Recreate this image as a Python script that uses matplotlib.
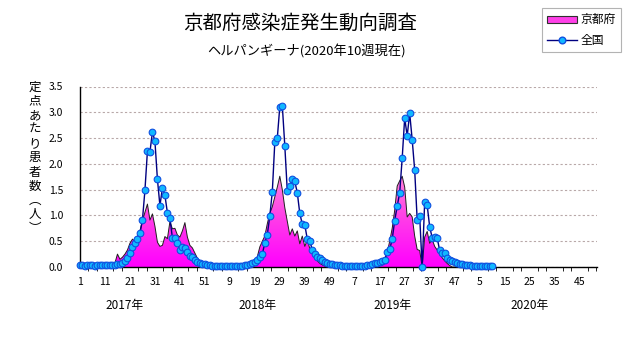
import numpy as np
import matplotlib
matplotlib.use("Agg")
import matplotlib.pyplot as plt
from matplotlib.colors import LinearSegmentedColormap
from matplotlib.patches import Patch
from matplotlib.lines import Line2D

plt.rcParams['font.family'] = ['Noto Sans CJK JP', 'DejaVu Sans']

# weekly values, 2017 week1 -> 2020 week10
national = [
    # 2017
    0.03, 0.03, 0.02, 0.03, 0.03, 0.03, 0.02, 0.03, 0.03, 0.03, 0.03, 0.03, 0.04, 0.04,
    0.04, 0.05, 0.06, 0.08, 0.12, 0.18, 0.28, 0.38, 0.46, 0.55, 0.65,
    0.91, 1.49, 2.25, 2.23, 2.62, 2.44, 1.70, 1.19, 1.53, 1.39, 1.05, 0.95,
    0.56, 0.57, 0.47, 0.33, 0.38, 0.36, 0.30, 0.22, 0.20, 0.14, 0.09, 0.07, 0.06, 0.05, 0.04,
    # 2018
    0.03, 0.02, 0.02, 0.02, 0.01, 0.01, 0.01, 0.01, 0.01, 0.01, 0.02, 0.02, 0.02, 0.02,
    0.03, 0.04, 0.05, 0.07, 0.10, 0.14, 0.19,
    0.25, 0.47, 0.63, 0.99, 1.46, 2.42, 2.50, 3.11, 3.13, 2.35, 1.47, 1.57, 1.70, 1.66, 1.44, 1.04, 0.83, 0.82,
    0.54, 0.51, 0.33, 0.25, 0.20, 0.17, 0.13, 0.10, 0.08, 0.06, 0.05, 0.04, 0.03,
    # 2019
    0.03, 0.02, 0.02, 0.01, 0.01, 0.01, 0.01, 0.01, 0.02, 0.02, 0.02, 0.03,
    0.04, 0.05, 0.07, 0.08, 0.10, 0.12, 0.14, 0.29, 0.34, 0.54,
    0.90, 1.18, 1.44, 2.11, 2.89, 2.54, 2.98, 2.47, 1.88, 0.92, 0.99, 0.00,
    1.26, 1.20, 0.78, 0.57, 0.59, 0.57, 0.32, 0.28, 0.28, 0.17, 0.14, 0.11, 0.09, 0.08, 0.06, 0.05, 0.04, 0.03,
    # 2020
    0.03, 0.02, 0.02, 0.02, 0.02, 0.02, 0.02, 0.02, 0.02, 0.02,
]

kyoto = [
    # 2017
    0, 0, 0, 0, 0, 0, 0, 0, 0, 0, 0, 0, 0, 0, 0.08,
    0.25, 0.15, 0.19, 0.25, 0.33, 0.46, 0.54, 0.50, 0.60, 0.70, 0.90, 1.06,
    1.22, 0.91, 1.03, 0.79, 0.48, 0.40, 0.42, 0.59, 0.55, 0.88, 0.74, 0.75, 0.62, 0.58,
    0.70, 0.86, 0.58, 0.42, 0.37, 0.27, 0.17, 0.09, 0.04, 0.02, 0.01,
    # 2018
    0, 0, 0, 0, 0, 0, 0, 0, 0, 0, 0, 0, 0, 0, 0, 0, 0, 0,
    0.05, 0.20, 0.39, 0.50, 0.60, 0.84, 1.04, 1.17, 1.36, 1.55, 1.76, 1.50,
    1.15, 0.88, 0.62, 0.74, 0.60, 0.70, 0.45, 0.60, 0.40, 0.52, 0.36, 0.28, 0.20, 0.12,
    0.07, 0.04, 0.02, 0, 0, 0, 0, 0,
    # 2019
    0, 0, 0, 0, 0, 0, 0.02, 0.03, 0.01, 0, 0, 0, 0, 0.02, 0.04, 0.02,
    0.02, 0.06, 0.15, 0.28, 0.50, 0.75, 1.10, 1.57, 1.67, 1.76, 1.55, 0.97, 1.04, 0.97, 0.60, 0.34, 0.32, 0.00,
    0.58, 0.69, 0.46, 0.54, 0.40, 0.33, 0.25, 0.18, 0.12, 0.07, 0.03, 0, 0, 0, 0, 0, 0, 0,
    # 2020
    0, 0, 0, 0, 0, 0, 0, 0, 0, 0,
]

tick_weeks = [1, 11, 21, 31, 41, 51, 9, 19, 29, 39, 49, 7, 17, 27, 37, 47, 5, 15, 25, 35, 45]
years = ['2017年', '2018年', '2019年', '2020年']
year_pos = [18, 71, 125, 180]

x = np.arange(len(national))

fig = plt.figure(figsize=(6.31, 3.47), dpi=100)
ax = fig.add_axes([80/631, 80/347, 517/631, 180.5/347])

# kyoto area with a vertical magenta -> pink gradient
fill = ax.fill_between(x, kyoto, 0, facecolor='none', edgecolor='none')
cmap = LinearSegmentedColormap.from_list('kyo', ['#ff00ff', '#ff3ce8', '#ff8ad8'])
grad = np.linspace(0, 1, 256).reshape(-1, 1)
im = ax.imshow(grad, cmap=cmap, origin='lower', aspect='auto',
               extent=[0, len(x), 0, 1.85], zorder=2)
im.set_clip_path(fill.get_paths()[0], transform=ax.transData)
ax.plot(x, kyoto, color='#202020', lw=0.7, zorder=3)

ax.plot(x, national, marker='o', markersize=4.8, linestyle='-', lw=1.0,
        color='#000080', markerfacecolor='#10b8ff', markeredgecolor='#1050e0',
        markeredgewidth=0.8, zorder=4, clip_on=False)

ax.set_xlim(0, 207)
ax.set_ylim(0, 3.5)

ax.set_yticks(np.arange(0, 3.51, 0.5))
ax.set_yticklabels(['%.1f' % v for v in np.arange(0, 3.51, 0.5)], fontsize=7.5)
ax.tick_params(axis='y', length=0, pad=12)
ax.yaxis.grid(True, color='#b8a8a8', linestyle=(0, (2, 2)), lw=0.8)
ax.set_axisbelow(True)

ax.set_xticks(np.arange(0, 201, 10))
ax.set_xticklabels([str(w) for w in tick_weeks], fontsize=7.5)
ax.set_xticks(np.arange(0, 207, 10/3), minor=True)
ax.tick_params(axis='x', which='major', length=0, pad=7)
ax.tick_params(axis='x', which='minor', length=3, direction='out')

for s in ['top', 'right']:
    ax.spines[s].set_visible(False)
ax.spines['left'].set_linewidth(1)
ax.spines['bottom'].set_linewidth(1)

# year labels under the week numbers
for yr, p in zip(years, year_pos):
    ax.text(p, -39/180.5, yr, transform=ax.get_xaxis_transform(), ha='center', va='center',
            fontsize=8.5)

fig.text(300/631, 1 - 23/347, '京都府感染症発生動向調査', ha='center', va='center', fontsize=14)
fig.text(307/631, 1 - 51/347, 'ヘルパンギーナ(2020年10週現在)', ha='center', va='center', fontsize=9.5)

ylab = '\n'.join(['定', '点', 'あ', 'た', 'り', '患', '者', '数', '︵', '人', '︶'])
fig.text(35/631, 1 - 158/347, ylab, ha='center', va='center', fontsize=9, linespacing=1.12)

handles = [Patch(facecolor='#ff40e8', edgecolor='#303030', lw=0.8),
           Line2D([], [], color='#000080', lw=1, marker='o', markersize=4.8,
                  markerfacecolor='#10b8ff', markeredgecolor='#1050e0')]
leg = fig.legend(handles, ['京都府', '全国'], loc='upper right',
                 bbox_to_anchor=(621/631, 1 - 8/347), fontsize=8.5, frameon=True,
                 fancybox=False, handlelength=2.5, handleheight=0.55,
                 borderpad=0.45, labelspacing=0.65, handletextpad=0.3, borderaxespad=0)
leg.get_frame().set_edgecolor('#a0a0a0')
leg.get_frame().set_linewidth(0.8)

fig.savefig('out.png', dpi=100)
